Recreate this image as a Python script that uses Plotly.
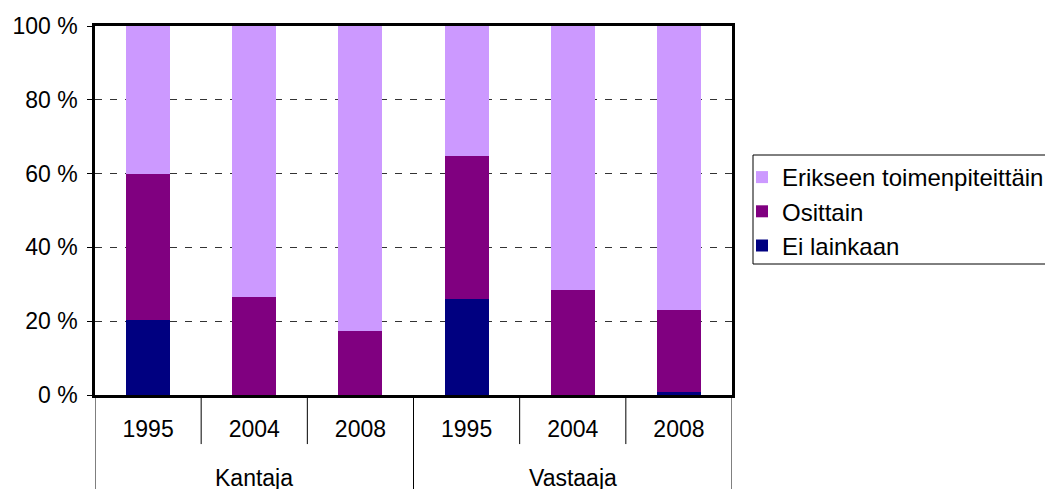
import plotly.graph_objects as go

groups = ["Kantaja", "Vastaaja"]
years = ["1995", "2004", "2008"]
series_names = ["Ei lainkaan", "Osittain", "Erikseen toimenpiteittäin"]
ei_lainkaan = [20.3, 0.0, 0.0, 26.0, 0.0, 0.8]
osittain = [39.5, 26.6, 17.3, 38.9, 28.5, 22.2]
erikseen = [40.2, 73.4, 82.7, 35.1, 71.5, 77.0]
colors = ["#000080", "#800080", "#CC99FF"]
ytick_vals = [0, 20, 40, 60, 80, 100]
ytick_text = ["0 %", "20 %", "40 %", "60 %", "80 %", "100 %"]

FONT = "Liberation Sans, Arial, sans-serif"
FS = 23

W, H = 1045, 489
L, R, T, B = 95, 313, 26, 94
PW, PH = W - L - R, H - T - B

def px_x(px):
    return (px - L) / PW

def px_y(py):
    return (H - B - py) / PH

xpos = list(range(len(groups) * len(years)))
year_labels = [y for g in groups for y in years]

fig = go.Figure()
for name, vals, col in zip(series_names, [ei_lainkaan, osittain, erikseen], colors):
    fig.add_trace(go.Bar(x=xpos, y=vals, name=name, marker=dict(color=col, line=dict(width=0)),
                         width=0.415))

fig.update_layout(
    width=W, height=H, autosize=False,
    barmode="stack",
    paper_bgcolor="white", plot_bgcolor="white",
    margin=dict(l=L, r=R, t=T, b=B),
    font=dict(family=FONT, size=FS, color="black"),
    showlegend=True,
    legend=dict(
        xref="container", yref="container",
        x=742 / W, xanchor="left", y=1 - 155 / H, yanchor="top",
        traceorder="reversed",
        borderwidth=0, bgcolor="rgba(0,0,0,0)",
        font=dict(family=FONT, size=24, color="black"),
        itemwidth=30, tracegroupgap=0,
    ),
)

# legend frame
fig.add_shape(type="rect", xref="paper", yref="paper",
              x0=px_x(753), x1=px_x(1060), y0=px_y(264), y1=px_y(155),
              line=dict(color="black", width=1), fillcolor="rgba(0,0,0,0)", layer="below")

fig.update_yaxes(
    range=[0, 100], tickvals=ytick_vals, ticktext=ytick_text,
    showgrid=True, gridcolor="#333333", gridwidth=1, griddash="7px,8px",
    showline=True, linecolor="black", linewidth=2.5, mirror=True,
    ticks="outside", ticklen=5, tickcolor="black", tickwidth=1,
    zeroline=False, fixedrange=True, automargin=False,
    tickfont=dict(family=FONT, size=FS), ticklabelstandoff=5,
)
fig.update_xaxes(
    range=[-0.5, len(xpos) - 0.5], tickvals=xpos, ticktext=year_labels,
    showgrid=False, showline=True, linecolor="black", linewidth=2.5, mirror=True,
    ticks="", zeroline=False, fixedrange=True, automargin=False,
    tickfont=dict(family=FONT, size=FS), ticklabelstandoff=12,
)

# category boundaries below axis
n = len(years)
for i in range(len(xpos) + 1):
    xb = i - 0.5
    is_group = (i % n == 0)
    fig.add_shape(type="line", xref="x", yref="paper",
                  x0=xb, x1=xb, y0=0, y1=(-0.3 if is_group else -0.133),
                  line=dict(color="black", width=1))

for gi, g in enumerate(groups):
    fig.add_annotation(x=gi * n + (n - 1) / 2, xref="x", y=px_y(478), yref="paper",
                       text=g, showarrow=False, yanchor="middle",
                       font=dict(family=FONT, size=FS, color="black"))

fig.write_html(
    "out.html",
    config={"responsive": False, "displayModeBar": False},
    post_script="document.body.style.margin='0px';document.body.style.overflow='hidden';",
)
